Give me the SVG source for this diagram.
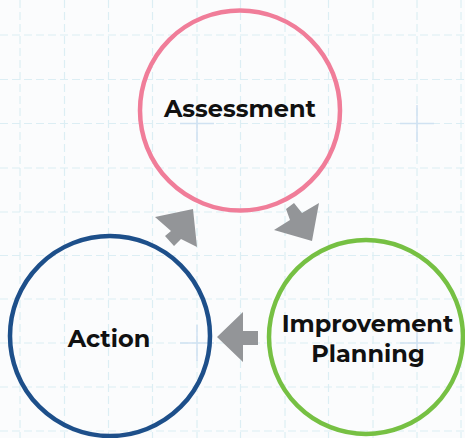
<svg xmlns="http://www.w3.org/2000/svg" width="465" height="438" viewBox="0 0 465 438">
<style>
.grid line{stroke:#dceef4;stroke-width:1.2;stroke-dasharray:8 4}
.plus line{stroke:#d0e2f2;stroke-width:1.5}
.node circle{fill:none;stroke-width:4.5}
.label{font-family:"Montserrat","Liberation Sans",Arial,sans-serif;font-weight:bold;font-size:24px;fill:#111;text-anchor:middle}
.arrow{fill:#939598}
</style>
<rect width="465" height="438" fill="#fbfcfd"/>
<g class="grid">
<line x1="20" y1="0" x2="20" y2="438"/>
<line x1="64.5" y1="0" x2="64.5" y2="438"/>
<line x1="108.5" y1="0" x2="108.5" y2="438"/>
<line x1="152.5" y1="0" x2="152.5" y2="438"/>
<line x1="197" y1="0" x2="197" y2="438"/>
<line x1="240.5" y1="0" x2="240.5" y2="438"/>
<line x1="285" y1="0" x2="285" y2="438"/>
<line x1="328.5" y1="0" x2="328.5" y2="438"/>
<line x1="373" y1="0" x2="373" y2="438"/>
<line x1="417" y1="0" x2="417" y2="438"/>
<line x1="461" y1="0" x2="461" y2="438"/>
<line x1="0" y1="35" x2="465" y2="35"/>
<line x1="0" y1="79.5" x2="465" y2="79.5"/>
<line x1="0" y1="123.5" x2="465" y2="123.5"/>
<line x1="0" y1="168" x2="465" y2="168"/>
<line x1="0" y1="212" x2="465" y2="212"/>
<line x1="0" y1="255.5" x2="465" y2="255.5"/>
<line x1="0" y1="299" x2="465" y2="299"/>
<line x1="0" y1="343" x2="465" y2="343"/>
<line x1="0" y1="387" x2="465" y2="387"/>
<line x1="0" y1="431" x2="465" y2="431"/>
</g>
<g class="plus">
<line x1="197" y1="105" x2="197" y2="142"/>
<line x1="180" y1="123.5" x2="214" y2="123.5"/>
<line x1="417" y1="105" x2="417" y2="142"/>
<line x1="400" y1="123.5" x2="434" y2="123.5"/>
<line x1="197" y1="325" x2="197" y2="361"/>
<line x1="180" y1="343" x2="214" y2="343"/>
<line x1="417" y1="325" x2="417" y2="361"/>
<line x1="400" y1="343" x2="434" y2="343"/>
</g>
<g id="connectors">
<polygon class="arrow" points="193,209 197,247 181,239 174,246 165,236 171,231 155,217"/>
<polygon class="arrow" points="312,241 274,230 290,220 286,209 294,203 302,213 319,203"/>
<polygon class="arrow" points="217,337 243,312 243,331 258,331 258,345 243,345 243,362"/>
</g>
<g id="assessment" class="node">
<circle cx="240" cy="110.5" r="100" stroke="#f07d99"/>
<text class="label" x="240" y="117">Assessment</text>
</g>
<g id="improvement-planning" class="node">
<circle cx="366" cy="337" r="97" stroke="#76c043"/>
<text class="label" x="367.5" y="332">Improvement</text>
<text class="label" x="368" y="362">Planning</text>
</g>
<g id="action" class="node">
<circle cx="110" cy="336" r="100" stroke="#1d4f8a"/>
<text class="label" x="109" y="347">Action</text>
</g>
</svg>
